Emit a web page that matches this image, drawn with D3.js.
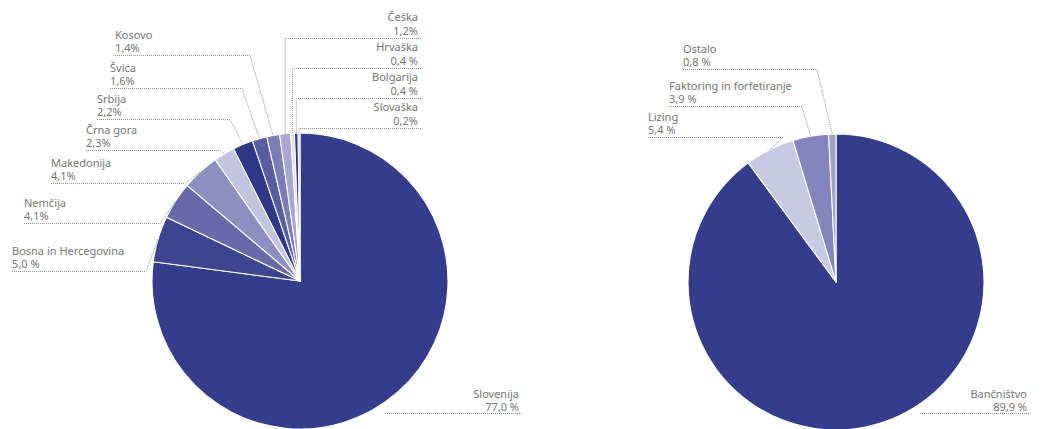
<!DOCTYPE html>
<html>
<head>
<meta charset="utf-8">
<script src="https://cdn.jsdelivr.net/npm/d3@7"></script>
<style>
  html, body { margin: 0; padding: 0; background: #fff; }
  svg { display: block; }
  text { font-family: "Noto Sans", "Open Sans", sans-serif; font-size: 11px; fill: #737373; }
</style>
</head>
<body>
<svg id="chart" width="1061" height="429"></svg>
<script>
// ---- Data: left pie (countries) ----
const countryNames = ["Slovenija", "Bosna in Hercegovina", "Nemčija", "Makedonija", "Črna gora", "Srbija", "Švica", "Kosovo", "Češka", "Hrvaška", "Bolgarija", "Slovaška"];
const countryValues = [77.0, 5.0, 4.1, 4.1, 2.3, 2.2, 1.6, 1.4, 1.2, 0.4, 0.4, 0.2];
const countryLabels = ["77,0 %", "5,0 %", "4,1%", "4,1%", "2,3%", "2,2%", "1,6%", "1,4%", "1,2%", "0,4 %", "0,4 %", "0,2%"];
const countryColors = ["#333d8b", "#3d4591", "#676aa8", "#8d8fc0", "#c3c4df", "#2f3788", "#585ca1", "#7a7db6", "#a6a8d0", "#dedfee", "#2f3788", "#a9abd2"];

// ---- Data: right pie (activities) ----
const sectorNames = ["Bančništvo", "Lizing", "Faktoring in forfetiranje", "Ostalo"];
const sectorValues = [89.9, 5.4, 3.9, 0.8];
const sectorLabels = ["89,9 %", "5,4 %", "3,9 %", "0,8 %"];
const sectorColors = ["#333d8b", "#c8c9e3", "#8385bc", "#a2a4cd"];

// ---- Layout ----
const R = 148;
const leftCenter = [300, 281];
const rightCenter = [836, 282];

const leftLayout = [
  {type: "bottom", x: 519, y: 413, start: 385},
  {type: "left", x: 12, y: 271, end: 146},
  {type: "left", x: 24, y: 223, end: 160},
  {type: "left", x: 51, y: 183, end: 185},
  {type: "left", x: 86, y: 150, end: 220},
  {type: "left", x: 97, y: 119, end: 230},
  {type: "left", x: 110, y: 88, end: 242},
  {type: "left", x: 115, y: 55, end: 250},
  {type: "top", x: 418, y: 38},
  {type: "top", x: 418, y: 68},
  {type: "top", x: 418, y: 98},
  {type: "top", x: 418, y: 128}
];
const rightLayout = [
  {type: "bottom", x: 1027, y: 413, start: 920},
  {type: "left", x: 648, y: 137, end: 783},
  {type: "left", x: 669, y: 106, end: 802},
  {type: "left", x: 683, y: 69, end: 817}
];

const svg = d3.select("#chart");

function drawPie(center, names, values, labels, colors, layout) {
  const pie = d3.pie().sort(null).value(d => d).startAngle(0).endAngle(2 * Math.PI);
  const arcs = pie(values);
  const arc = d3.arc().innerRadius(0).outerRadius(R);
  const g = svg.append("g").attr("transform", `translate(${center[0]},${center[1]})`);

  g.selectAll("path.slice")
    .data(arcs)
    .join("path")
    .attr("class", "slice")
    .attr("d", arc)
    .attr("fill", (d, i) => colors[i])
    .attr("stroke", "#ffffff")
    .attr("stroke-width", 1.1)
    .attr("stroke-linejoin", "round");

  const lg = svg.append("g");
  arcs.forEach((a, i) => {
    const L = layout[i];
    const mid = (a.startAngle + a.endAngle) / 2;
    const px = center[0] + R * Math.sin(mid);
    const py = center[1] - R * Math.cos(mid);
    const lineStyle = sel => sel.attr("fill", "none").attr("stroke", "#909090")
      .attr("stroke-width", 1).attr("stroke-dasharray", "1,1");

    if (L.type === "left") {
      lg.append("path").call(lineStyle)
        .attr("d", `M${L.x},${L.y + 0.5}H${L.end}L${px},${py}`);
      lg.append("text").attr("x", L.x).attr("y", L.y - 16).text(names[i]);
      lg.append("text").attr("x", L.x).attr("y", L.y - 3).text(labels[i]);
    } else if (L.type === "top") {
      lg.append("path").call(lineStyle)
        .attr("d", `M${L.x + 3},${L.y + 0.5}H${px}V${py}`);
      lg.append("text").attr("x", L.x).attr("y", L.y - 17).attr("text-anchor", "end").text(names[i]);
      lg.append("text").attr("x", L.x).attr("y", L.y - 3).attr("text-anchor", "end").text(labels[i]);
    } else {
      lg.append("path").call(lineStyle)
        .attr("d", `M${L.start},${L.y + 0.5}H${L.x + 3}`);
      lg.append("text").attr("x", L.x).attr("y", L.y - 15).attr("text-anchor", "end").text(names[i]);
      lg.append("text").attr("x", L.x).attr("y", L.y - 2).attr("text-anchor", "end").text(labels[i]);
    }
  });
}

drawPie(leftCenter, countryNames, countryValues, countryLabels, countryColors, leftLayout);
drawPie(rightCenter, sectorNames, sectorValues, sectorLabels, sectorColors, rightLayout);
</script>
</body>
</html>
